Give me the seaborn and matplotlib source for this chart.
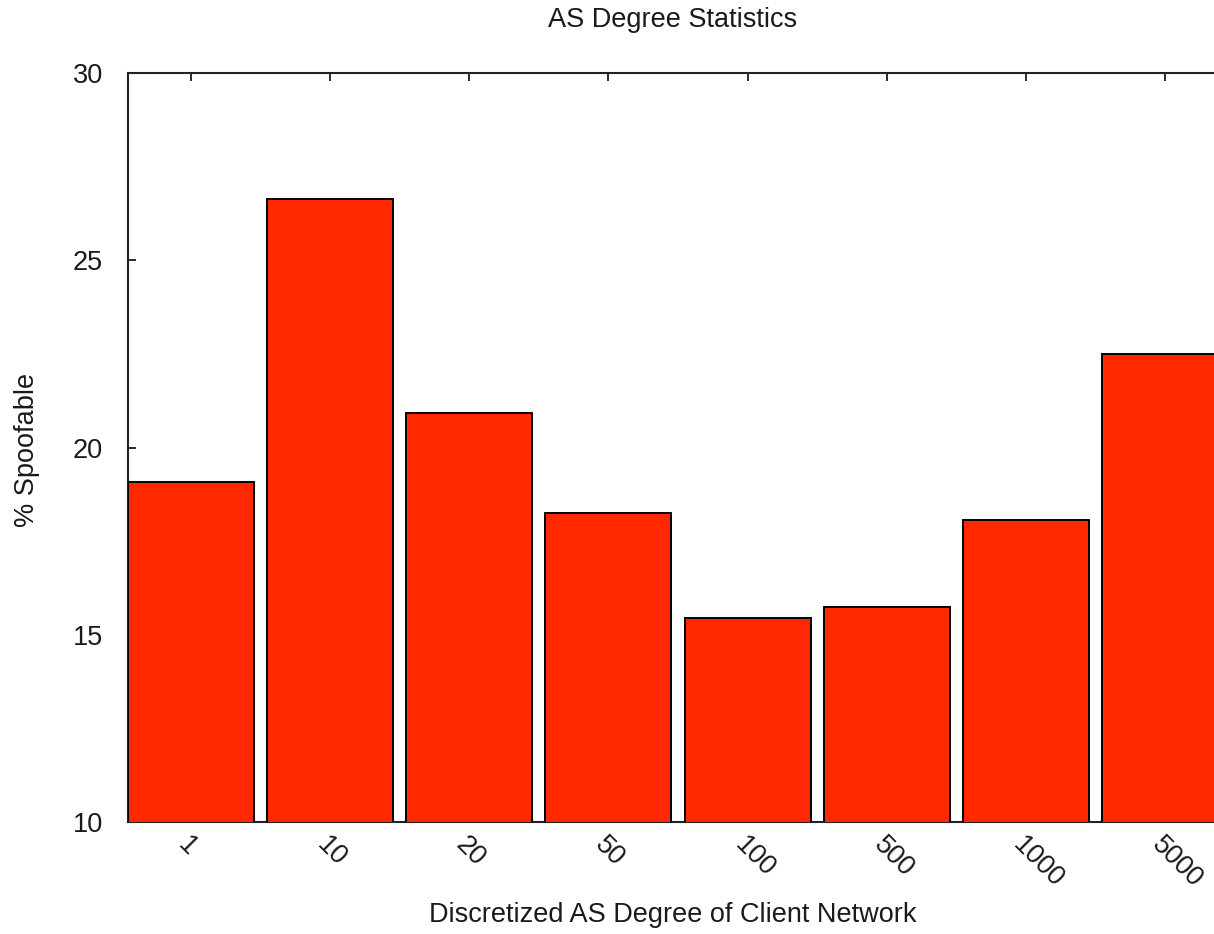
import matplotlib
matplotlib.use("Agg")
import matplotlib.pyplot as plt
import seaborn as sns
import pandas as pd

# Share of spoofable clients per discretized AS degree bucket
degree_bins = ["1", "10", "20", "50", "100", "500", "1000", "5000"]
pct_spoofable = [19.08, 26.64, 20.92, 18.25, 15.45, 15.74, 18.06, 22.50]
y_ticks = [10, 15, 20, 25, 30]

sns.set_theme(style="white")
plt.rcParams["font.family"] = ["Liberation Sans", "DejaVu Sans"]
plt.rcParams["text.color"] = "#1a1a1a"
plt.rcParams["axes.labelcolor"] = "#1a1a1a"
plt.rcParams["xtick.color"] = "#1a1a1a"
plt.rcParams["ytick.color"] = "#1a1a1a"

df = pd.DataFrame({"degree": degree_bins, "pct": pct_spoofable})

fig = plt.figure(figsize=(12.14, 9.34), dpi=100)
ax = fig.add_axes([0.1054, 0.1199, 0.9176, 0.8019])

sns.barplot(data=df, x="degree", y="pct", order=degree_bins, color="#ff2800",
            saturation=1, width=0.905, edgecolor="black", linewidth=1.4, ax=ax)
for p in ax.patches:
    p.set_zorder(3)

ax.set_xlim(-0.45, 7.55)
ax.set_ylim(10, 30)
ax.set_yticks(y_ticks)
ax.set_xticks(range(len(degree_bins)))
ax.set_xticklabels(degree_bins, rotation=-45, ha="left", va="top",
                   rotation_mode="anchor")

ax.tick_params(axis="both", direction="in", length=6, width=1.3,
               labelsize=19.5, top=True, right=True, bottom=True, left=True)
ax.tick_params(axis="y", pad=18)
ax.tick_params(axis="x", pad=7)

for s in ax.spines.values():
    s.set_visible(True)
    s.set_color("#222222")
    s.set_linewidth(1.5)

ax.set_xlabel("")
ax.set_ylabel("")

fig.text(673 / 1214, 1 - 20 / 934, "AS Degree Statistics", ha="center",
         va="center", fontsize=19.5)
fig.text(673 / 1214, 1 - 915 / 934, "Discretized AS Degree of Client Network",
         ha="center", va="center", fontsize=19.5)
fig.text(27 / 1214, 1 - 450 / 934, "% Spoofable", ha="center", va="center",
         rotation=90, fontsize=19.5)

fig.savefig("out.png", dpi=100, facecolor="white")
